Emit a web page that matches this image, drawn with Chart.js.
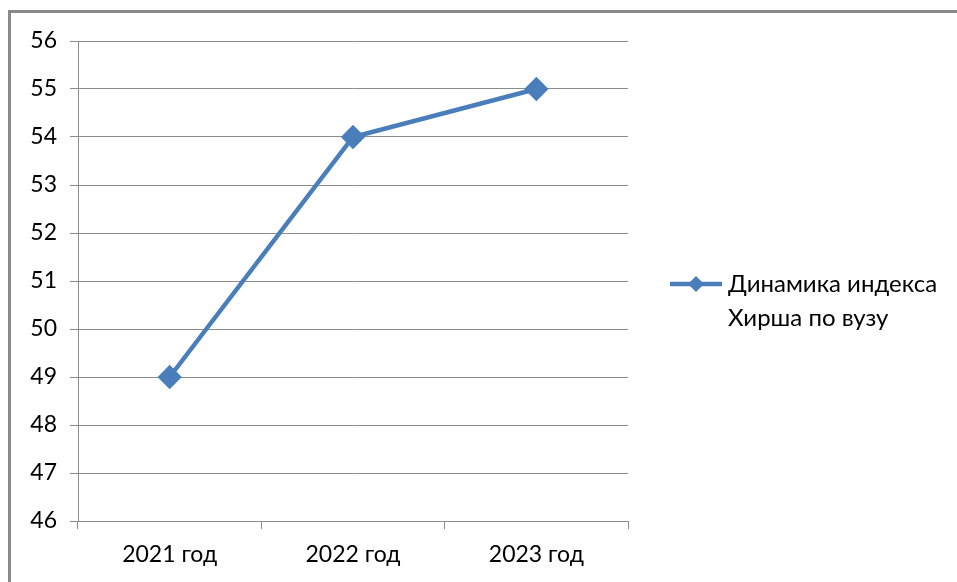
<!DOCTYPE html>
<html>
<head>
<meta charset="utf-8">
<script src="https://cdn.jsdelivr.net/npm/chart.js@4.4.0/dist/chart.umd.min.js"></script>
<style>
  body { margin: 0; background: #fff; overflow: hidden; }
  #frame { position: absolute; left: 8px; top: 10px; width: 1000px; height: 700px; border: 3px solid #898989; box-sizing: border-box; }
  #wrap { position: absolute; left: 0; top: 0; width: 957px; height: 582px; }
</style>
</head>
<body>
<div id="frame"></div>
<div id="wrap"><canvas id="hirsch"></canvas></div>
<script>
// data
const years = ['2021 год', '2022 год', '2023 год'];
const hirschIndex = [49, 54, 55];
const seriesName = ['Динамика индекса', 'Хирша по вузу'];
const yMin = 46, yMax = 56, yStep = 1;

const blue = '#4a7ebb';
const gray = '#8c8c8c';
const font = { family: 'Lato, "Noto Sans", sans-serif', size: 23 };

// legend drawn by hand so the label can wrap onto two lines
const sideLegend = {
    id: 'sideLegend',
    afterDraw(chart) {
        const ctx = chart.ctx;
        const y = 284;
        ctx.save();
        ctx.strokeStyle = blue;
        ctx.lineWidth = 4.5;
        ctx.beginPath();
        ctx.moveTo(670, y);
        ctx.lineTo(722, y);
        ctx.stroke();
        ctx.fillStyle = blue;
        ctx.beginPath();
        ctx.moveTo(696, y - 8);
        ctx.lineTo(704, y);
        ctx.lineTo(696, y + 8);
        ctx.lineTo(688, y);
        ctx.closePath();
        ctx.fill();
        ctx.fillStyle = '#000';
        ctx.font = '24px ' + font.family;
        ctx.textBaseline = 'middle';
        ctx.textAlign = 'left';
        seriesName.forEach((line, i) => ctx.fillText(line, 728, y + i * 34));
        ctx.restore();
    }
};

new Chart(document.getElementById('hirsch'), {
    type: 'line',
    data: {
        labels: years,
        datasets: [{
            label: seriesName.join(' '),
            data: hirschIndex,
            borderColor: blue,
            backgroundColor: blue,
            borderWidth: 4.5,
            pointStyle: 'rectRot',
            pointRadius: 9,
            pointHoverRadius: 9,
            tension: 0
        }]
    },
    options: {
        responsive: true,
        maintainAspectRatio: false,
        animation: false,
        events: [],
        layout: { padding: { left: 0, right: 329, top: 41, bottom: 0 } },
        plugins: { legend: { display: false }, tooltip: { enabled: false } },
        scales: {
            x: {
                offset: true,
                grid: { offset: true, drawOnChartArea: false, color: gray, tickLength: 8 },
                border: { color: gray },
                ticks: { color: '#000', font: font, padding: 12, maxRotation: 0 },
                afterFit(scale) { scale.height = 61; }
            },
            y: {
                min: yMin,
                max: yMax,
                grid: { color: gray, tickLength: 8 },
                border: { color: gray },
                ticks: { stepSize: yStep, color: '#000', font: font, padding: 13 },
                afterFit(scale) { scale.width = 78; }
            }
        }
    },
    plugins: [sideLegend]
});
</script>
</body>
</html>
